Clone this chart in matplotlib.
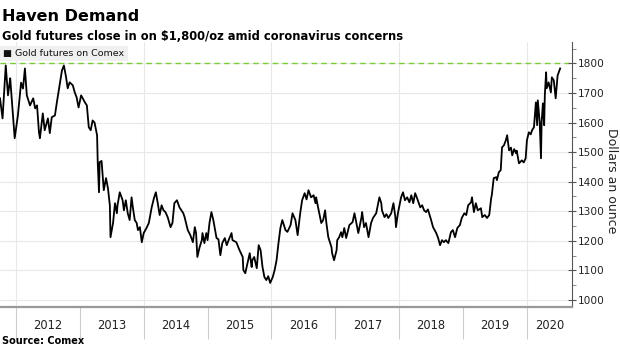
import numpy as np
import matplotlib
matplotlib.use("Agg")
import matplotlib.pyplot as plt

# Gold futures on Comex (decimal year, $/oz)
dates = [
    2011.75, 2011.79, 2011.84, 2011.875, 2011.91, 2011.92, 2011.98, 2012.03, 2012.08, 2012.11,
    2012.14, 2012.17, 2012.22, 2012.27, 2012.30, 2012.33, 2012.36, 2012.375, 2012.42, 2012.45,
    2012.50, 2012.53, 2012.56, 2012.61, 2012.64, 2012.69, 2012.72, 2012.75, 2012.78, 2012.81,
    2012.84, 2012.89, 2012.92, 2012.95, 2012.98, 2013.02, 2013.05, 2013.08, 2013.11, 2013.14,
    2013.17, 2013.20, 2013.23, 2013.27, 2013.28, 2013.30, 2013.31, 2013.34, 2013.375, 2013.41,
    2013.44, 2013.47, 2013.48, 2013.52, 2013.55, 2013.58, 2013.59, 2013.625, 2013.67, 2013.69,
    2013.72, 2013.75, 2013.78, 2013.81, 2013.83, 2013.86, 2013.89, 2013.91, 2013.94, 2013.97,
    2014.00, 2014.05, 2014.08, 2014.125, 2014.16, 2014.19, 2014.22, 2014.25, 2014.28, 2014.31,
    2014.34, 2014.375, 2014.42, 2014.45, 2014.48, 2014.52, 2014.56, 2014.59, 2014.62, 2014.64,
    2014.69, 2014.73, 2014.77, 2014.80, 2014.82, 2014.84, 2014.875, 2014.91, 2014.92, 2014.95,
    2014.98, 2015.00, 2015.03, 2015.06, 2015.09, 2015.14, 2015.17, 2015.20, 2015.23, 2015.27,
    2015.30, 2015.33, 2015.375, 2015.39, 2015.45, 2015.50, 2015.55, 2015.56, 2015.59, 2015.625,
    2015.66, 2015.69, 2015.70, 2015.73, 2015.77, 2015.80, 2015.83, 2015.86, 2015.89, 2015.92,
    2015.95, 2015.98, 2016.02, 2016.05, 2016.08, 2016.11, 2016.14, 2016.17, 2016.22, 2016.25,
    2016.30, 2016.33, 2016.375, 2016.41, 2016.45, 2016.48, 2016.52, 2016.55, 2016.58, 2016.62,
    2016.66, 2016.69, 2016.70, 2016.73, 2016.78, 2016.81, 2016.84, 2016.86, 2016.89, 2016.94,
    2016.95, 2016.98, 2017.02, 2017.03, 2017.06, 2017.09, 2017.11, 2017.14, 2017.17, 2017.22,
    2017.27, 2017.30, 2017.33, 2017.36, 2017.41, 2017.42, 2017.45, 2017.48, 2017.52, 2017.56,
    2017.59, 2017.64, 2017.69, 2017.72, 2017.73, 2017.77, 2017.80, 2017.83, 2017.875, 2017.91,
    2017.94, 2017.95, 2017.98, 2018.03, 2018.06, 2018.09, 2018.125, 2018.16, 2018.19, 2018.22,
    2018.25, 2018.28, 2018.33, 2018.36, 2018.39, 2018.42, 2018.45, 2018.50, 2018.53, 2018.58,
    2018.61, 2018.64, 2018.67, 2018.70, 2018.73, 2018.77, 2018.81, 2018.84, 2018.875, 2018.91,
    2018.95, 2018.98, 2019.02, 2019.05, 2019.08, 2019.125, 2019.14, 2019.17, 2019.20, 2019.23,
    2019.28, 2019.30, 2019.34, 2019.375, 2019.41, 2019.44, 2019.45, 2019.48, 2019.52, 2019.53,
    2019.56, 2019.59, 2019.61, 2019.64, 2019.67, 2019.69, 2019.72, 2019.75, 2019.77, 2019.80,
    2019.83, 2019.84, 2019.875, 2019.92, 2019.95, 2019.98, 2020.00, 2020.03, 2020.06, 2020.08,
    2020.11, 2020.14, 2020.16, 2020.17, 2020.20, 2020.22, 2020.23, 2020.25, 2020.27, 2020.28,
    2020.30, 2020.31, 2020.34, 2020.375, 2020.39, 2020.42, 2020.45, 2020.47, 2020.48, 2020.52,
]
prices = [
    1682, 1614, 1793, 1692, 1750, 1720, 1547, 1624, 1735, 1715,
    1783, 1692, 1658, 1682, 1648, 1658, 1567, 1547, 1631, 1574,
    1614, 1564, 1618, 1624, 1668, 1736, 1776, 1793, 1759, 1716,
    1736, 1726, 1702, 1685, 1651, 1692, 1680, 1668, 1658, 1584,
    1574, 1607, 1600, 1557, 1466, 1364, 1466, 1470, 1371, 1412,
    1378, 1320, 1212, 1260, 1327, 1293, 1320, 1364, 1337, 1303,
    1337, 1293, 1270, 1347, 1313, 1270, 1260, 1236, 1246, 1195,
    1226, 1246, 1260, 1313, 1344, 1364, 1327, 1287, 1320, 1303,
    1297, 1280, 1246, 1260, 1327, 1337, 1313, 1303, 1293, 1280,
    1236, 1219, 1195, 1246, 1226, 1145, 1178, 1202, 1226, 1192,
    1226, 1202, 1260, 1297, 1270, 1209, 1205, 1151, 1192, 1209,
    1185, 1202, 1226, 1202, 1195, 1168, 1145, 1101, 1090, 1124,
    1158, 1111, 1134, 1145, 1107, 1185, 1168, 1111, 1077, 1067,
    1080, 1057, 1077, 1101, 1134, 1192, 1243, 1270, 1236, 1230,
    1253, 1293, 1270, 1219, 1293, 1337, 1361, 1340, 1371, 1347,
    1354, 1327, 1347, 1313, 1260, 1270, 1303, 1260, 1212, 1178,
    1158, 1134, 1168, 1202, 1212, 1229, 1212, 1243, 1209, 1253,
    1263, 1293, 1260, 1226, 1280, 1297, 1246, 1260, 1212, 1260,
    1277, 1293, 1347, 1327, 1303, 1280, 1290, 1277, 1293, 1327,
    1280, 1246, 1293, 1347, 1364, 1337, 1347, 1330, 1354, 1327,
    1361, 1344, 1313, 1320, 1303, 1297, 1306, 1270, 1246, 1226,
    1209, 1185, 1202, 1195, 1202, 1192, 1229, 1236, 1212, 1243,
    1253, 1277, 1293, 1287, 1320, 1330, 1347, 1297, 1327, 1303,
    1310, 1280, 1287, 1277, 1287, 1344, 1354, 1412, 1415, 1405,
    1432, 1439, 1516, 1523, 1540, 1557, 1506, 1515, 1489, 1510,
    1496, 1505, 1462, 1472, 1465, 1479, 1540, 1567, 1560, 1574,
    1584, 1668, 1591, 1675, 1601, 1479, 1601, 1665, 1591, 1692,
    1770, 1716, 1736, 1702, 1753, 1743, 1682, 1736, 1759, 1783,
]
years = [2012, 2013, 2014, 2015, 2016, 2017, 2018, 2019, 2020]
yticks = [1000, 1100, 1200, 1300, 1400, 1500, 1600, 1700, 1800]
ref_level = 1800

fig = plt.figure(figsize=(6.2, 3.48), dpi=100)
ax = fig.add_axes([0.0, 0.118, 0.922, 0.760])

grid_c = "#e8e8e8"
for y in yticks:
    ax.axhline(y, color=grid_c, lw=0.8, zorder=0)
for yr in years[::2]:
    ax.axvline(yr, color=grid_c, lw=0.8, zorder=0)

ax.axhline(ref_level, color="#7ccc3a", lw=1.0, ls=(0, (4, 3)), zorder=1)
ax.plot(dates, prices, color="black", lw=1.3, zorder=2)

ax.set_xlim(2011.75, 2020.70)
ax.set_ylim(976, 1871)

ax.yaxis.tick_right()
ax.set_yticks(yticks)
ax.set_yticks(np.arange(1000, 1851, 50), minor=True)
ax.tick_params(axis="y", which="major", direction="inout", length=6, width=0.8,
               color="#555555", labelsize=7.6, pad=1.5, labelcolor="#222222")
ax.tick_params(axis="y", which="minor", direction="out", length=3, width=0.6,
               color="#777777")

# year boundaries as long ticks, labels in the middle of each year
ax.set_xticks(years)
ax.set_xticks([y + 0.5 for y in years[:-1]] + [2020.35], minor=True)
ax.set_xticklabels(["" for _ in years])
ax.set_xticklabels([str(y) for y in years], minor=True)
ax.tick_params(axis="x", which="major", direction="out", length=23, width=0.8,
               color="#cccccc")
ax.tick_params(axis="x", which="minor", length=0, labelsize=8.3, pad=9,
               labelcolor="#222222")

for side in ["left", "top"]:
    ax.spines[side].set_visible(False)
ax.spines["bottom"].set_color("#999999")
ax.spines["bottom"].set_linewidth(1.6)
ax.spines["right"].set_color("#555555")
ax.spines["right"].set_linewidth(0.8)

# legend box
ax.text(0.006, 0.975, "\u25A0 Gold futures on Comex", transform=ax.transAxes,
        fontsize=6.8, va="top", ha="left", color="#111111",
        bbox=dict(boxstyle="square,pad=0.35", fc="#f0f0f0", ec="none"))

fig.text(0.987, 0.48, "Dollars an ounce", rotation=270, fontsize=9,
         ha="center", va="center", color="#222222")
fig.text(0.004, 0.975, "Haven Demand", fontsize=11.5, fontweight="bold", va="top")
fig.text(0.004, 0.915, "Gold futures close in on $1,800/oz amid coronavirus concerns",
         fontsize=8.3, fontweight="bold", va="top")
fig.text(0.004, 0.005, "Source: Comex", fontsize=7, fontweight="bold", va="bottom")

fig.savefig("out.png", dpi=100)
